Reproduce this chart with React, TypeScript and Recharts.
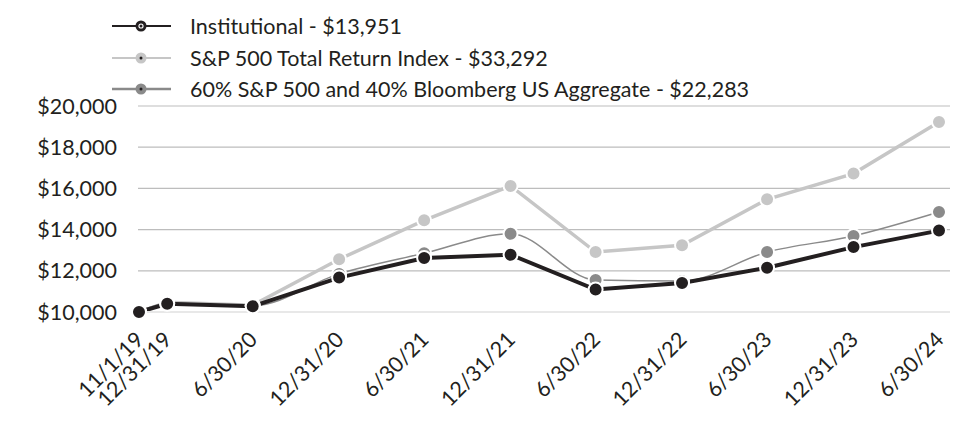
import React from 'react';
import { LineChart, Line, XAxis, YAxis, CartesianGrid } from 'recharts';

const dates = ['11/1/19', '12/31/19', '6/30/20', '12/31/20', '6/30/21', '12/31/21', '6/30/22', '12/31/22', '6/30/23', '12/31/23', '6/30/24'];
const institutional = [10000, 10400, 10280, 11670, 12620, 12780, 11090, 11410, 12150, 13150, 13951];
const sp500 = [10000, 10470, 10330, 12560, 14450, 16120, 12910, 13240, 15470, 16720, 19220];
const blend = [10000, 10420, 10300, 11850, 12850, 13800, 11550, 11500, 12910, 13690, 14850];
const yTicks = [10000, 12000, 14000, 16000, 18000, 20000];

const toTime = (d: string) => {
  const [m, day, y] = d.split('/').map(Number);
  return Date.UTC(2000 + y, m - 1, day);
};

const data = dates.map((d, i) => ({
  t: toTime(d),
  label: d,
  inst: institutional[i],
  sp: sp500[i],
  blend: blend[i],
}));

const labelByTime: Record<number, string> = {};
data.forEach((d) => (labelByTime[d.t] = d.label));

const INK = '#231f20';
const LIGHT = '#c6c6c6';
const MID = '#8a8a8a';
const FONT = 'Lato, "Noto Sans", sans-serif';
const FS = 21.5;

const series = [
  { key: 'inst', name: 'Institutional - $13,951', color: INK },
  { key: 'sp', name: 'S&P 500 Total Return Index - $33,292', color: LIGHT },
  { key: 'blend', name: '60% S&P 500 and 40% Bloomberg US Aggregate - $22,283', color: MID },
];

const DateTick = (props: any) => {
  const { x, y, payload } = props;
  return (
    <g transform={`translate(${x + 6},${y + 21})`}>
      <text textAnchor="end" transform="rotate(-45)" fill={INK} fontSize={FS} fontFamily={FONT}>
        {labelByTime[payload.value]}
      </text>
    </g>
  );
};

const Dot = (color: string) => (props: any) => {
  const { cx, cy, index } = props;
  return <circle key={index} cx={cx} cy={cy} r={7} fill={color} stroke="#fff" strokeWidth={2} />;
};

const LegendBox = () => (
  <div style={{ position: 'absolute', left: 0, top: 0 }}>
    {series.map((s, i) => (
      <div key={s.key} style={{ position: 'absolute', left: 112, top: 10 + i * 31.6, height: 32, display: 'flex', alignItems: 'center', whiteSpace: 'nowrap' }}>
        <svg width={60} height={14}>
          <line x1={0} y1={7} x2={59} y2={7} stroke={s.color} strokeWidth={s.key === 'blend' ? 2.5 : 2} />
          <circle cx={29} cy={7} r={5.5} fill={s.color} />
          {s.key === 'inst' && <circle cx={29} cy={7} r={2.6} fill="#fff" />}
          <circle cx={29} cy={7} r={1.5} fill={INK} />
        </svg>
        <span style={{ marginLeft: 18, fontFamily: FONT, fontSize: FS, color: INK }}>{s.name}</span>
      </div>
    ))}
  </div>
);

export default function App() {
  return (
    <div style={{ position: 'absolute', left: 0, top: 0, width: 960, height: 444, background: '#fff' }}>
      <LineChart width={960} height={444} data={data} margin={{ top: 106, right: 10, bottom: 12, left: 0 }}>
        <CartesianGrid vertical={false} stroke="#bdbdbd" strokeWidth={1.2} />
        <XAxis
          dataKey="t"
          type="number"
          scale="time"
          domain={['dataMin', 'dataMax']}
          ticks={data.map((d) => d.t)}
          padding={{ left: 1, right: 11 }}
          height={120}
          tick={<DateTick />}
          tickLine={false}
          axisLine={{ stroke: '#e8e8e8', strokeWidth: 2 }}
          interval={0}
        />
        <YAxis
          domain={[10000, 20000]}
          ticks={yTicks}
          width={138}
          axisLine={false}
          tickLine={false}
          tickSize={0}
          tickMargin={21}
          tick={{ fill: INK, fontSize: FS, fontFamily: FONT }}
          tickFormatter={(v: number) => '$' + v.toLocaleString('en-US')}
        />
        <Line dataKey="sp" stroke={LIGHT} strokeWidth={3.5} dot={Dot(LIGHT)} isAnimationActive={false} />
        <Line dataKey="blend" type="monotone" stroke={MID} strokeWidth={1.5} dot={Dot(MID)} isAnimationActive={false} />
        <Line dataKey="inst" stroke={INK} strokeWidth={4} dot={Dot(INK)} isAnimationActive={false} />
      </LineChart>
      <LegendBox />
    </div>
  );
}
